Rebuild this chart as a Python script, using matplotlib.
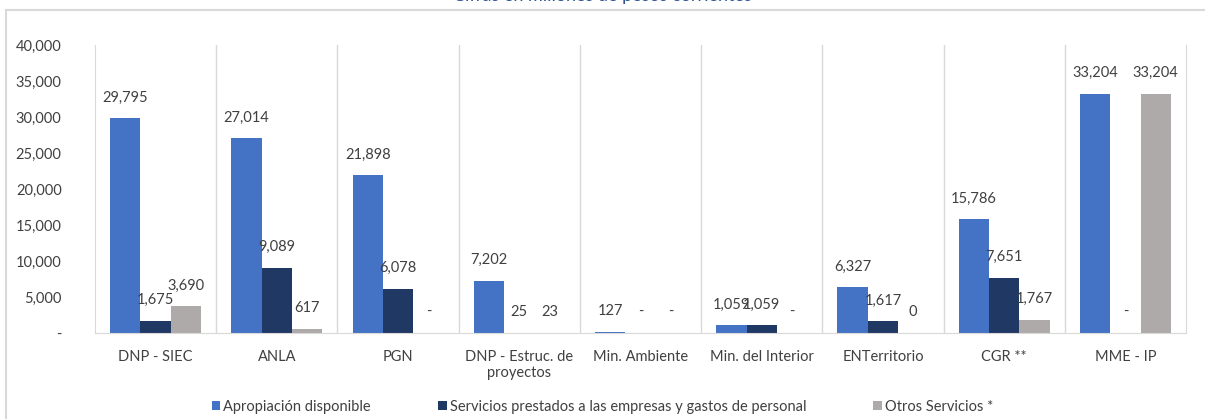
import matplotlib
matplotlib.use("Agg")
import matplotlib.pyplot as plt
import numpy as np

categories = ["DNP - SIEC", "ANLA", "PGN", "DNP - Estruc. de\nproyectos", "Min. Ambiente",
              "Min. del Interior", "ENTerritorio", "CGR **", "MME - IP"]
series_names = ["Apropiación disponible",
                "Servicios prestados a las empresas y gastos de personal",
                "Otros Servicios *"]
apropiacion = [29795, 27014, 21898, 7202, 127, 1059, 6327, 15786, 33204]
servicios = [1675, 9089, 6078, 25, 0, 1059, 1617, 7651, 0]
otros = [3690, 617, 0, 23, 0, 0, 0, 1767, 33204]
apropiacion_lbl = ["29,795", "27,014", "21,898", "7,202", "127", "1,059", "6,327", "15,786", "33,204"]
servicios_lbl = ["1,675", "9,089", "6,078", "25", "-", "1,059", "1,617", "7,651", "-"]
otros_lbl = ["3,690", "617", "-", "23", "-", "-", "0", "1,767", "33,204"]
yticks = [0, 5000, 10000, 15000, 20000, 25000, 30000, 35000, 40000]
ytick_lbl = ["-", "5,000", "10,000", "15,000", "20,000", "25,000", "30,000", "35,000", "40,000"]

colors = ["#4472C4", "#203864", "#AEAAAA"]
plt.rcParams['font.family'] = ['Lato', 'DejaVu Sans']

fig = plt.figure(figsize=(12.05, 4.19), dpi=100)
ax = fig.add_axes([95 / 1205, 1 - 333 / 419, 1091 / 1205, 288 / 419])

x = np.arange(len(categories))
w = 0.25
for i, (vals, lbls) in enumerate([(apropiacion, apropiacion_lbl), (servicios, servicios_lbl),
                                   (otros, otros_lbl)]):
    pos = x + (i - 1) * w
    ax.bar(pos, vals, width=w, color=colors[i], label=series_names[i], zorder=2)
    for p, v, l in zip(pos, vals, lbls):
        ax.annotate(l, (p, v), xytext=(0, 10), textcoords="offset points",
                    ha="center", va="bottom", fontsize=10.5, color="#404040")

ax.set_xlim(-0.5, len(categories) - 0.5)
ax.set_ylim(0, 40000)
ax.set_yticks(yticks)
ax.set_yticklabels(ytick_lbl)
ax.set_xticks(x)
ax.set_xticklabels(categories)
ax.tick_params(axis="both", length=0, labelsize=10.5, colors="#404040")
ax.tick_params(axis="y", pad=24)
ax.tick_params(axis="x", pad=12)
for b in np.arange(0.5, len(categories) - 1, 1):
    ax.axvline(b, color="#D9D9D9", lw=1, zorder=1)
for s in ["left", "right", "bottom"]:
    ax.spines[s].set_color("#D9D9D9")
ax.spines["top"].set_visible(False)

fig.legend(loc="center", bbox_to_anchor=(0.5, 1 - 407 / 419), ncol=3, frameon=False,
           fontsize=10.5, handlelength=0.6, handleheight=0.6, handletextpad=0.2,
           columnspacing=4.6, labelcolor="#404040")

fig.text(0.5, 1 - 1.5 / 419, "Cifras en millones de pesos corrientes", ha="center",
         va="baseline", fontsize=13, color="#2F5597")
fig.add_artist(plt.Line2D([6 / 1205, 1], [1 - 10 / 419, 1 - 10 / 419], color="#D9D9D9", lw=1.5))
fig.add_artist(plt.Line2D([6 / 1205, 6 / 1205], [0, 1 - 10 / 419], color="#D9D9D9", lw=1.5))

fig.savefig("out.png", dpi=100)
